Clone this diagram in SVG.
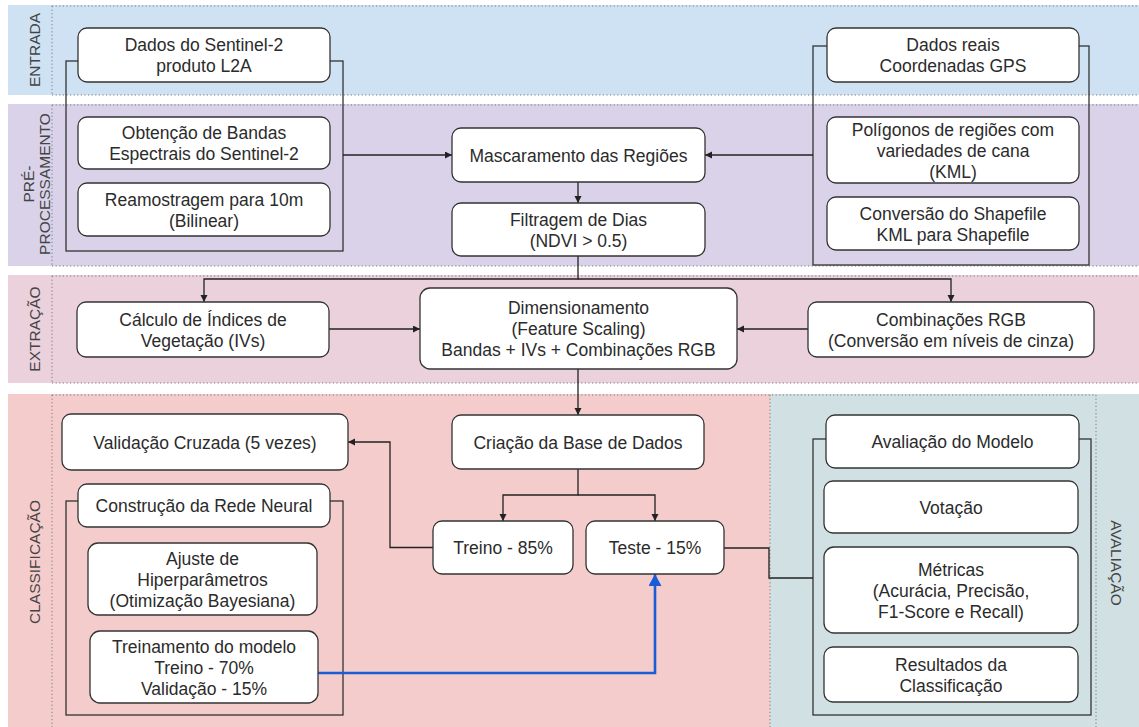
<svg xmlns="http://www.w3.org/2000/svg" width="1139" height="727" viewBox="0 0 1139 727">
<style>
.node rect{fill:#ffffff;stroke:#333333;stroke-width:1.3}
.node text,.t{font-family:"Liberation Sans",Arial,sans-serif;font-size:17.5px;fill:#2b2b2b;text-anchor:middle}
.box{fill:none;stroke:#333333;stroke-width:1.3}
.dot{stroke:#7a7a7a;stroke-width:1;stroke-dasharray:1.2 2.4;fill:none}
.lbl{font-family:"Liberation Sans",Arial,sans-serif;font-size:15.5px;fill:#444444;text-anchor:middle}
.c{fill:none;stroke:#222222;stroke-width:1.3}
.cb{fill:none;stroke:#1a5bd6;stroke-width:2.6}
</style>
<defs>
<marker id="ah" markerUnits="userSpaceOnUse" markerWidth="8" markerHeight="8" refX="7" refY="3.5" orient="auto">
<path d="M0,0 L7,3.5 L0,7 z" fill="#222222"/>
</marker>
<marker id="ahb" markerUnits="userSpaceOnUse" markerWidth="14" markerHeight="14" refX="12" refY="6.5" orient="auto">
<path d="M0,0 L12,6.5 L0,13 z" fill="#1a5bd6"/>
</marker>
</defs>

<g id="bands">
<rect x="8" y="5" width="1131" height="90" fill="#cfe2f3"/>
<rect x="8" y="104" width="1131" height="162" fill="#d9d2e9"/>
<rect x="8" y="275" width="1131" height="108" fill="#ead1dc"/>
<rect x="8" y="394" width="762" height="333" fill="#f4cccc"/>
<rect x="770" y="394" width="369" height="333" fill="#d0e0e3"/>
<path class="dot" d="M52,6 H1139 M52,95 H1139 M52,6 V95"/>
<path class="dot" d="M52,105 H1139 M52,266 H1139 M52,105 V266"/>
<path class="dot" d="M52,276 H1139 M52,383 H1139 M52,276 V383"/>
<path class="dot" d="M52,395 H1096 M52,395 V727 M770,395 V727 M1096,395 V727"/>
<text class="lbl" transform="translate(40,50) rotate(-90)">ENTRADA</text>
<text class="lbl" transform="translate(33.5,184) rotate(-90)">PRÉ-</text>
<text class="lbl" transform="translate(49.5,184) rotate(-90)">PROCESSAMENTO</text>
<text class="lbl" transform="translate(40,329) rotate(-90)">EXTRAÇÃO</text>
<text class="lbl" transform="translate(40,562) rotate(-90)">CLASSIFICAÇÃO</text>
<text class="lbl" transform="translate(1111,563) rotate(90)">AVALIAÇÃO</text>
</g>

<g id="containers">
<rect class="box" x="66" y="61" width="277" height="190"/>
<rect class="box" x="813" y="46" width="276" height="219"/>
<rect class="box" x="66" y="501" width="277" height="214"/>
<rect class="box" x="813" y="439" width="278" height="276"/>
</g>

<g id="connectors">
<path class="c" d="M343,155 H452" marker-end="url(#ah)"/>
<path class="c" d="M813,155 H705" marker-end="url(#ah)"/>
<path class="c" d="M578,182 V203" marker-end="url(#ah)"/>
<path class="c" d="M578,256 V279 H204 V302" marker-end="url(#ah)"/>
<path class="c" d="M578,279 H951 V302" marker-end="url(#ah)"/>
<path class="c" d="M329,329 H420" marker-end="url(#ah)"/>
<path class="c" d="M808,329 H737" marker-end="url(#ah)"/>
<path class="c" d="M578,369 V415" marker-end="url(#ah)"/>
<path class="c" d="M578,469 V495 H503 V521" marker-end="url(#ah)"/>
<path class="c" d="M578,495 H655 V521" marker-end="url(#ah)"/>
<path class="c" d="M433,547.5 H390 V442 H348" marker-end="url(#ah)"/>
<path class="c" d="M724,548 H769 V578 H813"/>
<path class="cb" d="M318,673 H655 V574" marker-end="url(#ahb)"/>
</g>

<g id="n1" class="node"><rect x="78" y="28" width="252" height="54" rx="9"/><text x="204" y="51">Dados do Sentinel-2</text><text x="204" y="72">produto L2A</text></g>
<g id="n2" class="node"><rect x="78" y="117" width="252" height="52" rx="9"/><text x="204" y="139">Obtenção de Bandas</text><text x="204" y="160">Espectrais do Sentinel-2</text></g>
<g id="n3" class="node"><rect x="78" y="183" width="252" height="53" rx="9"/><text x="204" y="205.5">Reamostragem para 10m</text><text x="204" y="226.5">(Bilinear)</text></g>
<g id="n4" class="node"><rect x="452" y="128" width="253" height="54" rx="9"/><text x="578.5" y="161.5">Mascaramento das Regiões</text></g>
<g id="n5" class="node"><rect x="452" y="203" width="253" height="53" rx="9"/><text x="578.5" y="225.5">Filtragem de Dias</text><text x="578.5" y="246.5">(NDVI &gt; 0.5)</text></g>
<g id="n6" class="node"><rect x="827" y="28" width="252" height="54" rx="9"/><text x="953" y="51">Dados reais</text><text x="953" y="72">Coordenadas GPS</text></g>
<g id="n7" class="node"><rect x="827" y="117" width="252" height="66" rx="9"/><text x="953" y="135.5">Polígonos de regiões com</text><text x="953" y="156.5">variedades de cana</text><text x="953" y="177.5">(KML)</text></g>
<g id="n8" class="node"><rect x="827" y="197" width="252" height="53" rx="9"/><text x="953" y="219.5">Conversão do Shapefile</text><text x="953" y="240.5">KML para Shapefile</text></g>
<g id="n9" class="node"><rect x="77" y="302" width="252" height="55" rx="9"/><text x="203" y="325.5">Cálculo de Índices de</text><text x="203" y="346.5">Vegetação (IVs)</text></g>
<g id="n10" class="node"><rect x="420" y="288" width="317" height="81" rx="10"/><text x="578.5" y="314">Dimensionamento</text><text x="578.5" y="335">(Feature Scaling)</text><text x="578.5" y="356">Bandas + IVs + Combinações RGB</text></g>
<g id="n11" class="node"><rect x="808" y="302" width="286" height="55" rx="9"/><text x="951" y="325.5">Combinações RGB</text><text x="951" y="346.5">(Conversão em níveis de cinza)</text></g>
<g id="n12" class="node"><rect x="452" y="415" width="252" height="54" rx="9"/><text x="578" y="448.5">Criação da Base de Dados</text></g>
<g id="n13" class="node"><rect x="433" y="521" width="140" height="53" rx="9"/><text x="503" y="554">Treino - 85%</text></g>
<g id="n14" class="node"><rect x="586" y="521" width="138" height="53" rx="9"/><text x="655" y="554">Teste - 15%</text></g>
<g id="n15" class="node"><rect x="62" y="414" width="286" height="56" rx="9"/><text x="205" y="448.5">Validação Cruzada (5 vezes)</text></g>
<g id="n16" class="node"><rect x="78" y="484" width="252" height="43" rx="9"/><text x="204" y="512">Construção da Rede Neural</text></g>
<g id="n17" class="node"><rect x="88" y="543" width="229" height="72" rx="10"/><text x="202.5" y="564.5">Ajuste de</text><text x="202.5" y="585.5">Hiperparâmetros</text><text x="202.5" y="606.5">(Otimização Bayesiana)</text></g>
<g id="n18" class="node"><rect x="90" y="631" width="228" height="72" rx="10"/><text x="204" y="652.5">Treinamento do modelo</text><text x="204" y="673.5">Treino - 70%</text><text x="204" y="694.5">Validação - 15%</text></g>
<g id="n19" class="node"><rect x="826" y="415" width="253" height="53" rx="9"/><text x="952.5" y="448">Avaliação do Modelo</text></g>
<g id="n20" class="node"><rect x="824" y="481" width="254" height="52" rx="9"/><text x="951" y="513.5">Votação</text></g>
<g id="n21" class="node"><rect x="824" y="547" width="254" height="86" rx="10"/><text x="951" y="575.5">Métricas</text><text x="951" y="596.5">(Acurácia, Precisão,</text><text x="951" y="617.5">F1-Score e Recall)</text></g>
<g id="n22" class="node"><rect x="824" y="647" width="254" height="55" rx="9"/><text x="951" y="670.5">Resultados da</text><text x="951" y="691.5">Classificação</text></g>
</svg>
